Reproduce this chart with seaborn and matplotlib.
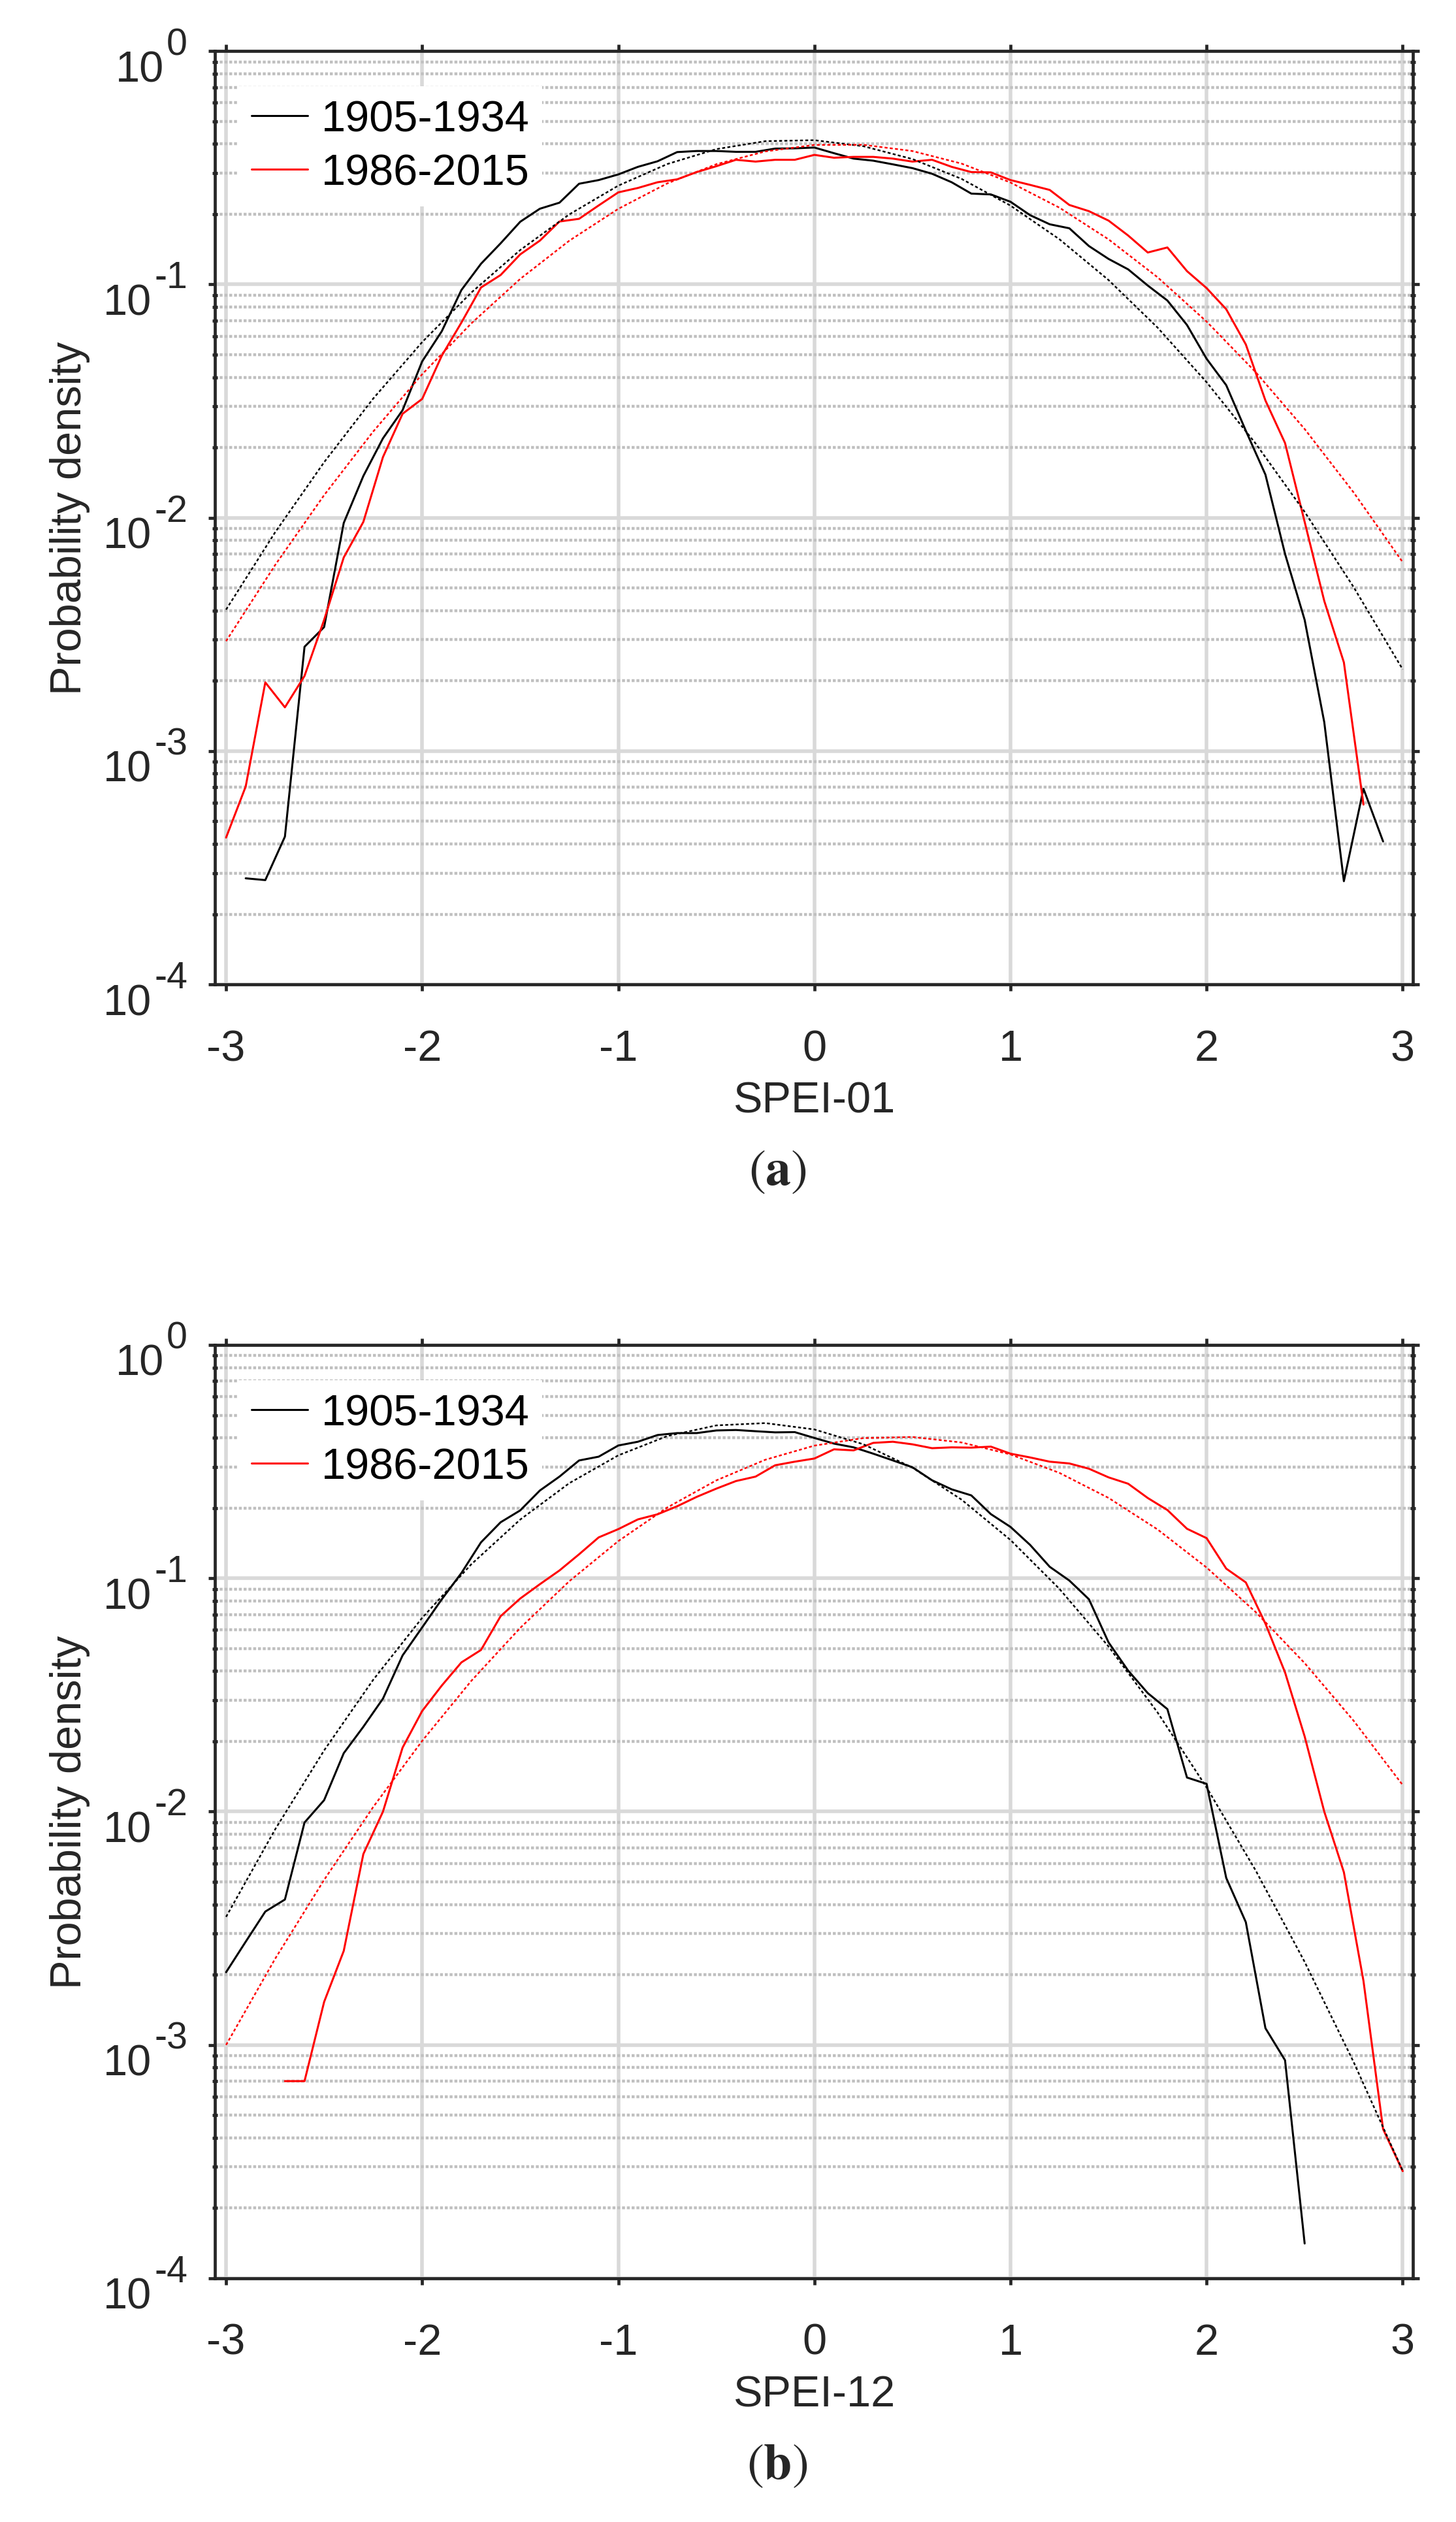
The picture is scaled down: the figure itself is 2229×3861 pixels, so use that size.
import numpy as np
import pandas as pd
import seaborn as sns
import matplotlib.pyplot as plt
from matplotlib.ticker import LogLocator, NullFormatter, FixedLocator
from matplotlib.transforms import IdentityTransform

# ---- SPEI-01 (panel a): empirical densities, bins of 0.1 ----
spei01_x_old = np.round(np.arange(-2.9, 2.91, 0.1), 1)
spei01_old = [2.85e-4, 2.8e-4, 4.3e-4, 2.8e-3, 3.4e-3, 9.5e-3, 0.0151, 0.0219, 0.0289, 0.0468,
              0.063, 0.0946, 0.1226, 0.150, 0.1856, 0.211, 0.224, 0.27, 0.28, 0.296,
              0.319, 0.337, 0.369, 0.373, 0.373, 0.37, 0.37, 0.382, 0.383, 0.386,
              0.365, 0.346, 0.339, 0.327, 0.315, 0.298, 0.274, 0.245, 0.243, 0.226,
              0.198, 0.181, 0.174, 0.146, 0.1286, 0.116, 0.0989, 0.0853, 0.067, 0.048,
              0.037, 0.0236, 0.0153, 0.0070, 3.65e-3, 1.33e-3, 2.77e-4, 6.9e-4, 4.1e-4]
spei01_x_new = np.round(np.arange(-3.0, 2.81, 0.1), 1)
spei01_new = [4.26e-4, 7.05e-4, 1.97e-3, 1.54e-3, 2.1e-3, 3.65e-3, 6.76e-3, 9.6e-3, 0.0182, 0.0279,
              0.0323, 0.0495, 0.0686, 0.097, 0.1097, 0.1345, 0.154, 0.186, 0.191, 0.218,
              0.248, 0.259, 0.274, 0.282, 0.303, 0.321, 0.342, 0.336, 0.342, 0.342,
              0.359, 0.349, 0.352, 0.352, 0.346, 0.336, 0.342, 0.319, 0.303, 0.302,
              0.28, 0.267, 0.254, 0.219, 0.206, 0.1877, 0.162, 0.137, 0.144, 0.114,
              0.0964, 0.0783, 0.0553, 0.0318, 0.0209, 9.6e-3, 4.4e-3, 2.4e-3, 5.9e-4]

# ---- SPEI-12 (panel b) ----
spei12_x_old = np.round(np.arange(-3.0, 2.51, 0.1), 1)
spei12_old = [2.05e-3, 2.77e-3, 3.73e-3, 4.2e-3, 8.98e-3, 0.0112, 0.0178, 0.0231, 0.0305, 0.0467,
              0.0616, 0.0813, 0.1053, 0.1426, 0.1738, 0.1954, 0.2377, 0.2727, 0.3198, 0.332,
              0.3707, 0.3847, 0.411, 0.419, 0.419, 0.43, 0.432, 0.4268, 0.422, 0.423,
              0.3993, 0.3777, 0.364, 0.342, 0.32, 0.299, 0.263, 0.2405, 0.2266, 0.1883,
              0.166, 0.139, 0.112, 0.0978, 0.0813, 0.0531, 0.0402, 0.0322, 0.0275, 0.014,
              0.01315, 5.2e-3, 3.36e-3, 1.18e-3, 8.6e-4, 1.41e-4]
spei12_x_new = np.round(np.arange(-2.7, 3.01, 0.1), 1)
spei12_new = [7.0e-4, 7.0e-4, 1.53e-3, 2.53e-3, 6.58e-3, 0.01, 0.0188, 0.027, 0.0347, 0.0436,
              0.0493, 0.0688, 0.0819, 0.0943, 0.108, 0.1267, 0.1497, 0.1624, 0.1788, 0.188,
              0.2035, 0.2233, 0.2422, 0.261, 0.2727, 0.305, 0.316, 0.326, 0.357, 0.3533,
              0.3804, 0.3847, 0.375, 0.361, 0.364, 0.363, 0.3666, 0.342, 0.3295, 0.316,
              0.3105, 0.2948, 0.2707, 0.2542, 0.2208, 0.1961, 0.163, 0.1486, 0.110, 0.096,
              0.0639, 0.0395, 0.021, 0.01, 5.5e-3, 1.88e-3, 4.36e-4, 2.88e-4]

# ---- fitted curves (dotted), read every 0.25 ----
fit_x = np.round(np.arange(-3.0, 3.01, 0.25), 2)
fit01_old = [4.04e-3, 8.66e-3, 0.0173, 0.0324, 0.0566, 0.0922, 0.1404, 0.1995, 0.265, 0.328,
             0.380, 0.411, 0.415, 0.391, 0.3445, 0.2834, 0.2176, 0.156, 0.1044, 0.0653,
             0.0381, 0.0208, 0.0106, 5.04e-3, 2.24e-3]
fit01_new = [2.96e-3, 6.27e-3, 0.0125, 0.0234, 0.0412, 0.068, 0.1056, 0.1539, 0.2108, 0.271,
             0.3274, 0.3715, 0.396, 0.3966, 0.3728, 0.3295, 0.2733, 0.2131, 0.156, 0.1073,
             0.0693, 0.0421, 0.024, 0.01283, 6.45e-3]
fit12_old = [3.54e-3, 8.39e-3, 0.0183, 0.0367, 0.0677, 0.1147, 0.1785, 0.2556, 0.3363, 0.4069,
             0.452, 0.4624, 0.4343, 0.3752, 0.2979, 0.2174, 0.1459, 0.090, 0.051, 0.0266,
             0.0127, 5.6e-3, 2.27e-3, 8.44e-4, 2.89e-4]
fit12_new = [1.0e-3, 2.34e-3, 5.1e-3, 0.01046, 0.0201, 0.0363, 0.0613, 0.0971, 0.1443, 0.2011,
             0.2628, 0.3221, 0.3702, 0.3989, 0.4031, 0.382, 0.3394, 0.2828, 0.221, 0.1619,
             0.1112, 0.0717, 0.0433, 0.0245, 0.0130]

periods = ['1905-1934', '1986-2015']
x_ticks = [-3, -2, -1, 0, 1, 2, 3]
y_decades = [0, -1, -2, -3, -4]

sns.set_theme(style='white')
plt.rcParams['font.family'] = ['Liberation Sans', 'DejaVu Sans']
plt.rcParams['axes.unicode_minus'] = False

DARK = '#262626'
dots = (0, (1.8, 1.4))


def draw_panel(ax, xo, yo, xn, yn, fo, fn, xlabel):
    sns.lineplot(x=xo, y=yo, ax=ax, color='black', lw=1.1, label=periods[0],
                 estimator=None, sort=False, legend=False, zorder=3)
    sns.lineplot(x=xn, y=yn, ax=ax, color='red', lw=1.1, label=periods[1],
                 estimator=None, sort=False, legend=False, zorder=3)
    sns.lineplot(x=fit_x, y=fo, ax=ax, color='black', lw=0.9, estimator=None,
                 sort=False, legend=False, zorder=3)
    sns.lineplot(x=fit_x, y=fn, ax=ax, color='red', lw=0.9, estimator=None,
                 sort=False, legend=False, zorder=3)
    ax.lines[2].set_linestyle(dots)
    ax.lines[3].set_linestyle(dots)

    ax.set_yscale('log')
    ax.set_ylim(1e-4, 1)
    ax.set_xlim(-3.057, 3.052)
    ax.xaxis.set_major_locator(FixedLocator(x_ticks))
    ax.yaxis.set_major_locator(LogLocator(base=10, numticks=10))
    ax.yaxis.set_minor_locator(LogLocator(base=10, subs=np.arange(2, 10), numticks=20))
    ax.yaxis.set_minor_formatter(NullFormatter())

    ax.set_axisbelow(True)
    ax.grid(which='major', color='#d9d9d9', lw=2.0, ls='-')
    ax.grid(which='minor', axis='y', color='#c0c0c0', lw=1.6, ls=(0, (1.0, 0.65)))

    for sp in ax.spines.values():
        sp.set_visible(True)
        sp.set_color(DARK)
        sp.set_linewidth(1.7)
    ax.tick_params(which='major', direction='out', length=3.5, width=1.7,
                   top=True, right=True, left=True, bottom=True,
                   colors=DARK, labelsize=24)
    ax.tick_params(axis='x', which='major', pad=21)
    ax.tick_params(axis='y', which='major', labelleft=False)
    ax.tick_params(axis='y', which='minor', direction='inout', length=2.6, width=1.7,
                   left=True, right=True, colors=DARK)

    ax.set_xlabel(xlabel, fontsize=24, color=DARK)
    ax.xaxis.set_label_coords(0.5, -0.103)
    ax.set_ylabel('Probability density', fontsize=24, color=DARK)
    ax.yaxis.set_label_coords(-0.104, 0.5)

    handles, labels = ax.get_legend_handles_labels()
    leg = ax.legend(handles[:2], labels[:2], loc='upper left',
                    bbox_to_anchor=(0.0195, 0.962), fontsize=24, frameon=True,
                    fancybox=False, framealpha=1, facecolor='white', edgecolor='none',
                    handlelength=1.3, handletextpad=0.3, labelspacing=0.3,
                    borderpad=0.3, borderaxespad=0)
    leg.set_zorder(2.5)
    for t in leg.get_texts():
        t.set_color('black')


def decade_labels(fig, ax, renderer):
    # "10" with a large raised exponent, right-aligned left of the spine
    x_spine = ax.transAxes.transform((0, 0))[0]
    for d in y_decades:
        y_pix = ax.transData.transform((0, 10.0 ** d))[1]
        t_exp = fig.text(x_spine - 42, y_pix - 5, str(d), transform=IdentityTransform(),
                         ha='right', va='baseline', fontsize=20.6, color=DARK)
        bb = t_exp.get_window_extent(renderer)
        fig.text(bb.x0 - 4, y_pix - 46, '10', transform=IdentityTransform(),
                 ha='right', va='baseline', fontsize=24, color=DARK)


fig = plt.figure(figsize=(11.145, 19.31), dpi=200)
ax_a = fig.add_axes([0.1476, 0.6095, 0.8228, 0.3700])
ax_b = fig.add_axes([0.1476, 0.0966, 0.8228, 0.3700])

draw_panel(ax_a, spei01_x_old, spei01_old, spei01_x_new, spei01_new,
           fit01_old, fit01_new, 'SPEI-01')
draw_panel(ax_b, spei12_x_old, spei12_old, spei12_x_new, spei12_new,
           fit12_old, fit12_new, 'SPEI-12')

renderer = fig.canvas.get_renderer()
decade_labels(fig, ax_a, renderer)
decade_labels(fig, ax_b, renderer)

fig.text(1190 / 2229, 1 - 1794 / 3862, r'$(\mathbf{a})$', ha='center', va='center',
         fontsize=28, math_fontfamily='stix')
fig.text(1190 / 2229, 1 - 3775 / 3862, r'$(\mathbf{b})$', ha='center', va='center',
         fontsize=28, math_fontfamily='stix')

fig.savefig('out.png', dpi=200)
